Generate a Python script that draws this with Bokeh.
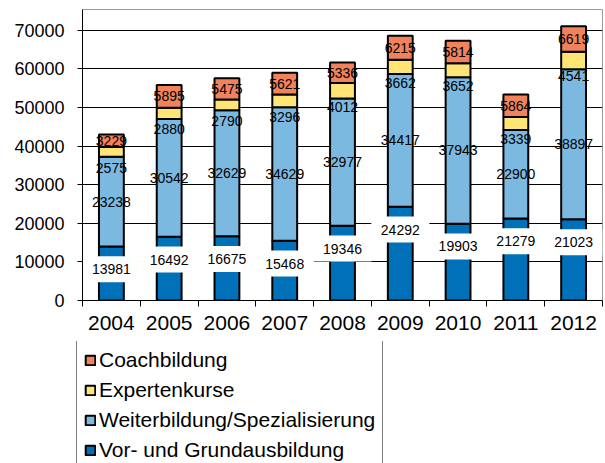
import numpy as np
from bokeh.plotting import figure
from bokeh.layouts import column
from bokeh.models import Range1d, FixedTicker, Legend, LegendItem, NumeralTickFormatter
from bokeh.core.properties import value
from bokeh.embed import file_html
from bokeh.resources import INLINE

years = ["2004", "2005", "2006", "2007", "2008", "2009", "2010", "2011", "2012"]
grund = [13981, 16492, 16675, 15468, 19346, 24292, 19903, 21279, 21023]
weiter = [23238, 30542, 32629, 34629, 32977, 34417, 37943, 22900, 38897]
experten = [2575, 2880, 2790, 3296, 4012, 3662, 3652, 3339, 4541]
coach = [3229, 5895, 5475, 5621, 5336, 6215, 5814, 5864, 6619]
y_ticks = [0, 10000, 20000, 30000, 40000, 50000, 60000, 70000]

names = ["Vor- und Grundausbildung", "Weiterbildung/Spezialisierung", "Expertenkurse", "Coachbildung"]
colors = ["#0071B9", "#7CB9E1", "#FFE476", "#F0835C"]
FONT = "Liberation Sans"

x = list(range(1, len(years) + 1))
series = [np.array(grund), np.array(weiter), np.array(experten), np.array(coach)]
tops = np.cumsum(series, axis=0)
bottoms = tops - np.array(series)

p = figure(width=605, height=341, x_range=Range1d(0.5, 9.5), y_range=Range1d(0, 75400),
           output_backend="svg", toolbar_location=None,
           min_border_left=82, min_border_right=3, min_border_top=9, min_border_bottom=41)
p.background_fill_color = "white"
p.border_fill_color = "white"
p.outline_line_color = "#9a9a9a"
p.outline_line_width = 1

for i in range(4):
    p.vbar(x=x, bottom=bottoms[i], top=tops[i], width=0.43,
           fill_color=colors[i], line_color="black", line_width=2)

# label positions derived from the stacked data
y_grund = tops[0] - 5900
y_weiter = (bottoms[1] + tops[1]) / 2
y_exp = (bottoms[2] + tops[2]) / 2 - 4100
y_coach = (bottoms[3] + tops[3]) / 2

p.rect(x=x, y=y_grund, width=58, height=26, width_units="screen", height_units="screen",
       fill_color="white", line_color=None)

for ys, vals in [(y_grund, grund), (y_weiter, weiter), (y_exp, experten), (y_coach, coach)]:
    p.text(x=x, y=list(ys), text=[str(v) for v in vals], text_font=value(FONT),
           text_font_size="14px", text_align="center", text_baseline="middle", text_color="black")

# y axis
p.yaxis.ticker = FixedTicker(ticks=y_ticks)
p.yaxis.formatter = NumeralTickFormatter(format="0")
p.yaxis.major_label_text_font = FONT
p.yaxis.major_label_text_font_size = "18px"
p.yaxis.major_label_text_color = "black"
p.yaxis.major_tick_out = 5
p.yaxis.major_tick_in = 0
p.yaxis.minor_tick_out = 0
p.yaxis.minor_tick_in = 0
p.yaxis.major_label_standoff = 13
p.yaxis.axis_line_color = "black"
p.yaxis.major_tick_line_color = "black"

# x axis
p.xaxis.ticker = FixedTicker(ticks=x, minor_ticks=[i + 0.5 for i in range(len(years) + 1)])
p.xaxis.major_label_overrides = {xi: yr for xi, yr in zip(x, years)}
p.xaxis.major_label_text_font = FONT
p.xaxis.major_label_text_font_size = "21px"
p.xaxis.major_label_text_color = "black"
p.xaxis.major_tick_out = 0
p.xaxis.major_tick_in = 0
p.xaxis.minor_tick_out = 6
p.xaxis.minor_tick_in = 0
p.xaxis.minor_tick_line_color = "black"
p.xaxis.major_label_standoff = 9
p.xaxis.axis_line_color = "black"

p.xgrid.visible = False
p.ygrid.grid_line_color = "black"
p.ygrid.grid_line_width = 1

# legend panel (separate figure under the chart)
q = figure(width=605, height=122, x_range=Range1d(0, 1), y_range=Range1d(0, 1),
           output_backend="svg", toolbar_location=None, x_axis_type=None, y_axis_type=None,
           min_border_left=0, min_border_right=0, min_border_top=0, min_border_bottom=0)
q.outline_line_color = None
q.grid.visible = False
q.background_fill_color = "white"
q.border_fill_color = "white"

legend_x = 76
if "frame_align" in q.properties():
    q.frame_align = False
    p.frame_align = False
else:
    legend_x = 76 - 82

# tiny proxy glyphs for the legend keys, hidden beneath the legend box
legend_renderers = []
for i in range(4):
    r = q.vbar(x=[0.3], bottom=[0.45], top=[0.5], width=0.01,
               fill_color=colors[i], line_color="black", line_width=2)
    legend_renderers.append(r)

items = [LegendItem(label=names[i], renderers=[legend_renderers[i]]) for i in [3, 2, 1, 0]]
legend = Legend(items=items, location=(legend_x, -7))
legend.label_text_font = FONT
legend.label_text_font_size = "21px"
legend.label_text_color = "black"
legend.glyph_width = 12
legend.glyph_height = 12
legend.label_height = 24
legend.label_standoff = 3
legend.spacing = 6
legend.padding = 7
legend.margin = 0
legend.border_line_color = "black"
legend.border_line_width = 1
legend.background_fill_color = "white"
legend.background_fill_alpha = 1
q.add_layout(legend)

layout = column(p, q, spacing=0)
open("out.html", "w").write(file_html(layout, INLINE))
